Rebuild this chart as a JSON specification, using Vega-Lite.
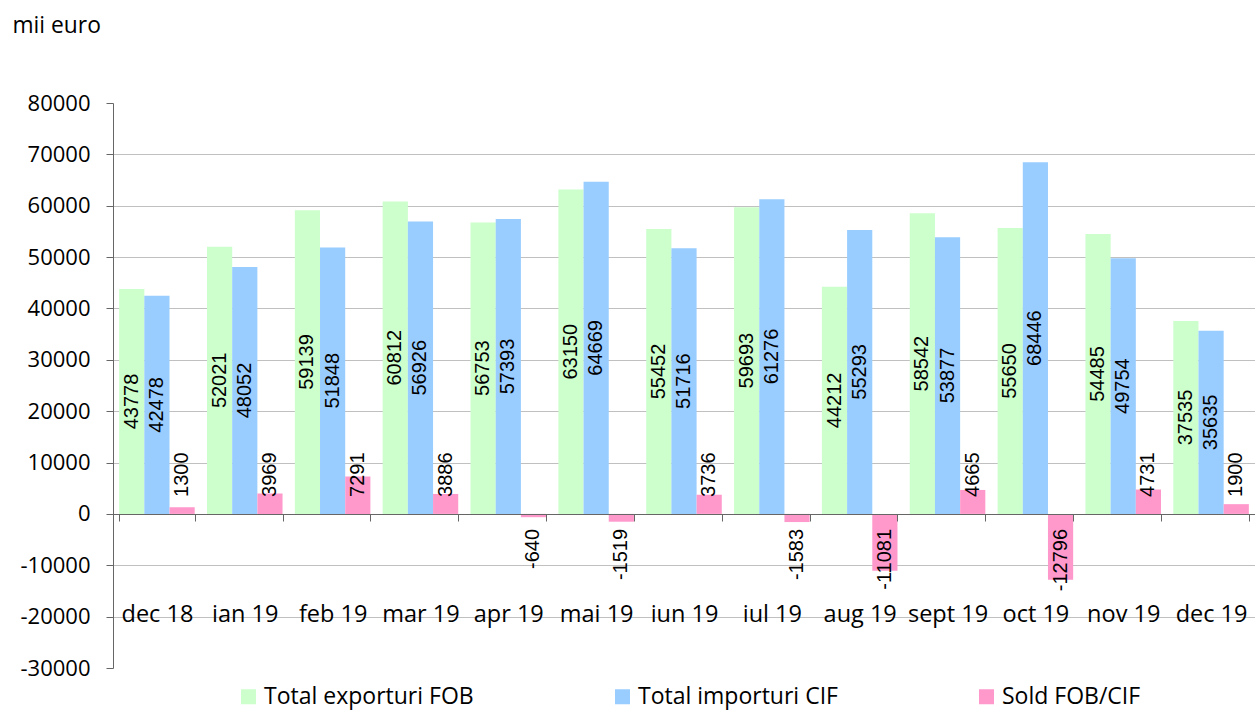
{
  "$schema": "https://vega.github.io/schema/vega-lite/v6.json",
  "autosize": "none",
  "padding": {"left": 113, "top": 103, "right": 0, "bottom": 43},
  "width": 1142,
  "height": 565,
  "config": {
    "view": {"stroke": null},
    "font": "Open Sans",
    "locale": {"number": {"decimal": ".", "thousands": "", "grouping": [3], "currency": ["", ""], "minus": "-"}}
  },
  "data": {"values": [
    {"luna": "dec 18", "serie": "Total exporturi FOB", "valoare": 43778},
    {"luna": "dec 18", "serie": "Total importuri CIF", "valoare": 42478},
    {"luna": "dec 18", "serie": "Sold FOB/CIF", "valoare": 1300},
    {"luna": "ian 19", "serie": "Total exporturi FOB", "valoare": 52021},
    {"luna": "ian 19", "serie": "Total importuri CIF", "valoare": 48052},
    {"luna": "ian 19", "serie": "Sold FOB/CIF", "valoare": 3969},
    {"luna": "feb 19", "serie": "Total exporturi FOB", "valoare": 59139},
    {"luna": "feb 19", "serie": "Total importuri CIF", "valoare": 51848},
    {"luna": "feb 19", "serie": "Sold FOB/CIF", "valoare": 7291},
    {"luna": "mar 19", "serie": "Total exporturi FOB", "valoare": 60812},
    {"luna": "mar 19", "serie": "Total importuri CIF", "valoare": 56926},
    {"luna": "mar 19", "serie": "Sold FOB/CIF", "valoare": 3886},
    {"luna": "apr 19", "serie": "Total exporturi FOB", "valoare": 56753},
    {"luna": "apr 19", "serie": "Total importuri CIF", "valoare": 57393},
    {"luna": "apr 19", "serie": "Sold FOB/CIF", "valoare": -640},
    {"luna": "mai 19", "serie": "Total exporturi FOB", "valoare": 63150},
    {"luna": "mai 19", "serie": "Total importuri CIF", "valoare": 64669},
    {"luna": "mai 19", "serie": "Sold FOB/CIF", "valoare": -1519},
    {"luna": "iun 19", "serie": "Total exporturi FOB", "valoare": 55452},
    {"luna": "iun 19", "serie": "Total importuri CIF", "valoare": 51716},
    {"luna": "iun 19", "serie": "Sold FOB/CIF", "valoare": 3736},
    {"luna": "iul 19", "serie": "Total exporturi FOB", "valoare": 59693},
    {"luna": "iul 19", "serie": "Total importuri CIF", "valoare": 61276},
    {"luna": "iul 19", "serie": "Sold FOB/CIF", "valoare": -1583},
    {"luna": "aug 19", "serie": "Total exporturi FOB", "valoare": 44212},
    {"luna": "aug 19", "serie": "Total importuri CIF", "valoare": 55293},
    {"luna": "aug 19", "serie": "Sold FOB/CIF", "valoare": -11081},
    {"luna": "sept 19", "serie": "Total exporturi FOB", "valoare": 58542},
    {"luna": "sept 19", "serie": "Total importuri CIF", "valoare": 53877},
    {"luna": "sept 19", "serie": "Sold FOB/CIF", "valoare": 4665},
    {"luna": "oct 19", "serie": "Total exporturi FOB", "valoare": 55650},
    {"luna": "oct 19", "serie": "Total importuri CIF", "valoare": 68446},
    {"luna": "oct 19", "serie": "Sold FOB/CIF", "valoare": -12796},
    {"luna": "nov 19", "serie": "Total exporturi FOB", "valoare": 54485},
    {"luna": "nov 19", "serie": "Total importuri CIF", "valoare": 49754},
    {"luna": "nov 19", "serie": "Sold FOB/CIF", "valoare": 4731},
    {"luna": "dec 19", "serie": "Total exporturi FOB", "valoare": 37535},
    {"luna": "dec 19", "serie": "Total importuri CIF", "valoare": 35635},
    {"luna": "dec 19", "serie": "Sold FOB/CIF", "valoare": 1900}
  ]},
  "encoding": {
    "x": {
      "field": "luna", "type": "nominal", "sort": null,
      "scale": {"paddingInner": 0.14, "paddingOuter": 0.07},
      "axis": {
        "title": null, "offset": -154, "zindex": 1,
        "domainColor": "#666666", "tickColor": "#666666", "tickBand": "extent", "tickSize": 7,
        "labelAngle": 0, "labelFont": "Open Sans", "labelFontSize": 23.5, "labelColor": "black",
        "labelPadding": 100, "labelBaseline": "alphabetic", "grid": false
      }
    },
    "xOffset": {
      "field": "serie", "type": "nominal",
      "scale": {"domain": ["Total exporturi FOB", "Total importuri CIF", "Sold FOB/CIF"], "paddingInner": 0, "paddingOuter": 0}
    }
  },
  "layer": [
    {
      "mark": {"type": "bar"},
      "encoding": {
        "y": {
          "field": "valoare", "type": "quantitative",
          "scale": {"domain": [-30000, 80000], "nice": false, "zero": false},
          "axis": {
            "title": "mii euro", "titleAngle": 0, "titleX": -101, "titleY": -71,
            "titleAlign": "left", "titleBaseline": "alphabetic", "titleFont": "Open Sans",
            "titleFontSize": 22.8, "titleFontWeight": "normal", "titleColor": "black",
            "values": [-30000, -20000, -10000, 0, 10000, 20000, 30000, 40000, 50000, 60000, 70000, 80000],
            "format": "d", "labelFont": "Open Sans", "labelFontSize": 22, "labelColor": "black",
            "labelPadding": 16, "tickSize": 7, "tickColor": "#666666", "domainColor": "#666666",
            "gridColor": {"condition": {"test": "datum.value === 80000 || datum.value === -30000", "value": "transparent"}, "value": "#c0c0c0"}
          }
        },
        "color": {
          "field": "serie", "type": "nominal",
          "scale": {"domain": ["Total exporturi FOB", "Total importuri CIF", "Sold FOB/CIF"], "range": ["#CCFFCC", "#99CCFF", "#FF99CC"]},
          "legend": {
            "orient": "none", "legendX": 124, "legendY": 582, "direction": "horizontal",
            "title": null, "symbolType": "square", "symbolSize": 225, "symbolStrokeWidth": 0,
            "labelFont": "Open Sans", "labelFontSize": 23, "labelColor": "black",
            "labelOffset": 4, "columnPadding": 137, "padding": 0, "labelLimit": 400
          }
        }
      }
    },
    {
      "transform": [{"filter": "datum.serie === 'Total exporturi FOB'"}],
      "mark": {"type": "text", "angle": 270, "font": "Liberation Sans", "fontSize": 20, "baseline": "middle", "align": "center", "color": "black"},
      "encoding": {
        "y": {"field": "valoare", "type": "quantitative", "stack": "zero", "bandPosition": 0.5},
        "detail": {"field": "serie"},
        "text": {"field": "valoare", "type": "quantitative", "format": "d"}
      }
    },
    {
      "transform": [{"filter": "datum.serie === 'Total importuri CIF'"}],
      "mark": {"type": "text", "angle": 270, "font": "Liberation Sans", "fontSize": 20, "baseline": "middle", "align": "center", "color": "black"},
      "encoding": {
        "y": {"field": "valoare", "type": "quantitative", "stack": "zero", "bandPosition": 0.5},
        "detail": {"field": "serie"},
        "text": {"field": "valoare", "type": "quantitative", "format": "d"}
      }
    },
    {
      "transform": [{"filter": "datum.serie === 'Sold FOB/CIF' && datum.valoare >= 0"}],
      "mark": {"type": "text", "angle": 270, "font": "Liberation Sans", "fontSize": 20, "baseline": "middle", "align": "left", "dx": 17, "color": "black"},
      "encoding": {
        "y": {"datum": 0, "type": "quantitative"},
        "text": {"field": "valoare", "type": "quantitative", "format": "d"}
      }
    },
    {
      "transform": [{"filter": "datum.serie === 'Sold FOB/CIF' && datum.valoare < 0"}],
      "mark": {"type": "text", "angle": 270, "font": "Liberation Sans", "fontSize": 20, "baseline": "middle", "align": "right", "dx": -15, "color": "black"},
      "encoding": {
        "y": {"datum": 0, "type": "quantitative"},
        "text": {"field": "valoare", "type": "quantitative", "format": "d"}
      }
    }
  ]
}
